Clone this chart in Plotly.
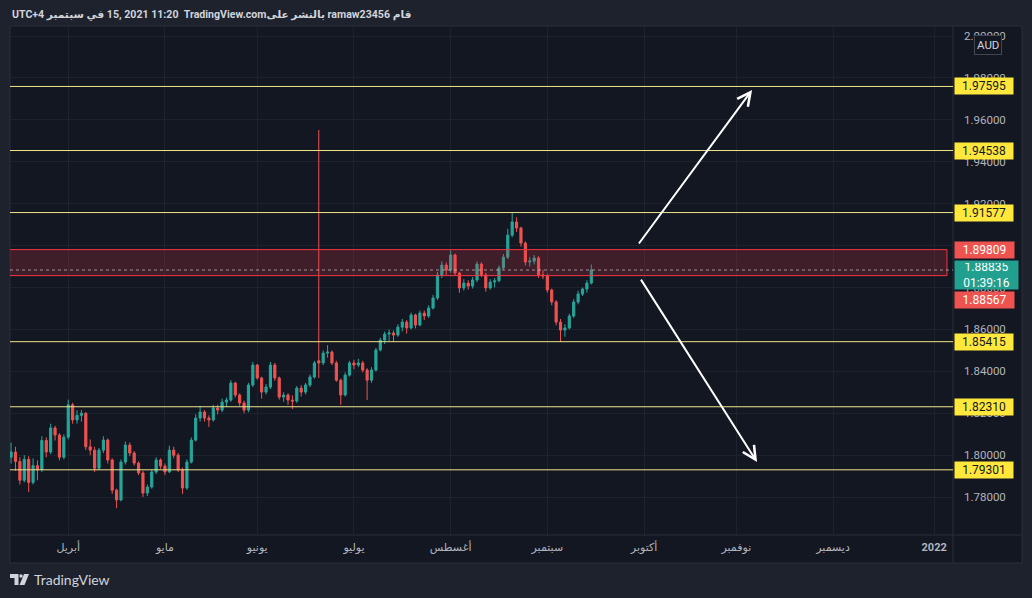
import plotly.graph_objects as go
import pandas as pd

# ---------------- data ----------------
dates = pd.bdate_range("2021-03-15", "2021-09-15").strftime("%Y-%m-%d").tolist()

open_ = [
    1.7990, 1.8015, 1.7970, 1.7880, 1.7980, 1.7870, 1.7950, 1.7930, 1.8070, 1.8015,
    1.8130, 1.8096, 1.7990, 1.8086, 1.8240, 1.8168, 1.8190, 1.8200, 1.8040, 1.8024,
    1.7938, 1.8024, 1.8072, 1.7977, 1.7833, 1.7786, 1.7967, 1.8048, 1.8010, 1.7962,
    1.7915, 1.7819, 1.7848, 1.7920, 1.7977, 1.7948, 1.7920, 1.8024, 1.8000, 1.7929,
    1.7843, 1.7967, 1.8072, 1.8177, 1.8206, 1.8177, 1.8168, 1.8225, 1.8215, 1.8253,
    1.8263, 1.8344, 1.8287, 1.8249, 1.8215, 1.8335, 1.8430, 1.8368, 1.8301, 1.8325,
    1.8430, 1.8368, 1.8277, 1.8287, 1.8263, 1.8258, 1.8320, 1.8301, 1.8335, 1.8373,
    1.8450, 1.8440, 1.8487, 1.8492, 1.8440, 1.8358, 1.8287, 1.8382, 1.8440, 1.8430,
    1.8440, 1.8406, 1.8358, 1.8406, 1.8502, 1.8549, 1.8578, 1.8583, 1.8573, 1.8611,
    1.8635, 1.8607, 1.8669, 1.8621, 1.8678, 1.8664, 1.8702, 1.8750, 1.8860, 1.8907,
    1.8883, 1.8955, 1.8869, 1.8798, 1.8821, 1.8807, 1.8836, 1.8912, 1.8860, 1.8798,
    1.8826, 1.8832, 1.8893, 1.8945, 1.9050, 1.9113, 1.9084, 1.9012, 1.8922, 1.8926,
    1.8941, 1.8860, 1.8855, 1.8788, 1.8731, 1.8635, 1.8597, 1.8607, 1.8664, 1.8731,
    1.8769, 1.8793, 1.8821,
]
high = [
    1.8060, 1.8040, 1.7990, 1.8000, 1.7995, 1.7985, 1.7975, 1.8090, 1.8085, 1.8150,
    1.8140, 1.8105, 1.8100, 1.8265, 1.8250, 1.8215, 1.8215, 1.8205, 1.8075, 1.8040,
    1.8035, 1.8090, 1.8080, 1.7985, 1.7840, 1.7980, 1.8065, 1.8060, 1.8020, 1.7970,
    1.7925, 1.7860, 1.7930, 1.7990, 1.7985, 1.7960, 1.8045, 1.8040, 1.8010, 1.7940,
    1.7980, 1.8085, 1.8195, 1.8235, 1.8215, 1.8190, 1.8240, 1.8240, 1.8270, 1.8275,
    1.8358, 1.8350, 1.8295, 1.8260, 1.8345, 1.8445, 1.8435, 1.8375, 1.8340, 1.8445,
    1.8440, 1.8375, 1.8300, 1.8295, 1.8285, 1.8330, 1.8335, 1.8345, 1.8385, 1.8450,
    1.9552, 1.8500, 1.8525, 1.8500, 1.8450, 1.8365, 1.8395, 1.8450, 1.8455, 1.8460,
    1.8450, 1.8415, 1.8420, 1.8512, 1.8560, 1.8590, 1.8600, 1.8595, 1.8625, 1.8650,
    1.8645, 1.8680, 1.8675, 1.8690, 1.8690, 1.8715, 1.8765, 1.8875, 1.8925, 1.8920,
    1.8978, 1.8962, 1.8875, 1.8840, 1.8835, 1.8850, 1.8925, 1.8920, 1.8870, 1.8840,
    1.8845, 1.8905, 1.8960, 1.9080, 1.9156, 1.9135, 1.9090, 1.9020, 1.8945, 1.8955,
    1.8950, 1.8885, 1.8865, 1.8795, 1.8740, 1.8650, 1.8625, 1.8675, 1.8745, 1.8785,
    1.8800, 1.8835, 1.8910,
]
low = [
    1.7960, 1.7925, 1.7860, 1.7870, 1.7825, 1.7860, 1.7880, 1.7920, 1.7990, 1.8005,
    1.8070, 1.7975, 1.7980, 1.8075, 1.8150, 1.8150, 1.8160, 1.8025, 1.8000, 1.7920,
    1.7930, 1.8010, 1.7960, 1.7815, 1.7747, 1.7780, 1.7955, 1.7995, 1.7950, 1.7905,
    1.7800, 1.7805, 1.7840, 1.7910, 1.7935, 1.7905, 1.7915, 1.7985, 1.7920, 1.7815,
    1.7835, 1.7960, 1.8065, 1.8160, 1.8160, 1.8135, 1.8160, 1.8195, 1.8205, 1.8230,
    1.8255, 1.8275, 1.8235, 1.8200, 1.8205, 1.8325, 1.8360, 1.8270, 1.8290, 1.8315,
    1.8355, 1.8265, 1.8255, 1.8240, 1.8220, 1.8250, 1.8280, 1.8290, 1.8325, 1.8365,
    1.8368, 1.8430, 1.8465, 1.8430, 1.8350, 1.8240, 1.8280, 1.8375, 1.8410, 1.8420,
    1.8395, 1.8263, 1.8345, 1.8400, 1.8495, 1.8530, 1.8545, 1.8540, 1.8565, 1.8590,
    1.8580, 1.8600, 1.8605, 1.8615, 1.8645, 1.8655, 1.8695, 1.8740, 1.8845, 1.8860,
    1.8870, 1.8855, 1.8775, 1.8785, 1.8790, 1.8795, 1.8825, 1.8850, 1.8780, 1.8790,
    1.8800, 1.8825, 1.8885, 1.8935, 1.9040, 1.9065, 1.8995, 1.8905, 1.8900, 1.8910,
    1.8845, 1.8840, 1.8775, 1.8715, 1.8620, 1.8540, 1.8565, 1.8600, 1.8655, 1.8720,
    1.8760, 1.8775, 1.8815,
]
close = [
    1.8015, 1.7970, 1.7880, 1.7980, 1.7870, 1.7950, 1.7930, 1.8070, 1.8015, 1.8130,
    1.8096, 1.7990, 1.8086, 1.8240, 1.8168, 1.8190, 1.8200, 1.8040, 1.8024, 1.7938,
    1.8024, 1.8072, 1.7977, 1.7833, 1.7786, 1.7967, 1.8048, 1.8010, 1.7962, 1.7915,
    1.7819, 1.7848, 1.7920, 1.7977, 1.7948, 1.7920, 1.8024, 1.8000, 1.7929, 1.7843,
    1.7967, 1.8072, 1.8177, 1.8206, 1.8177, 1.8168, 1.8225, 1.8215, 1.8253, 1.8263,
    1.8344, 1.8287, 1.8249, 1.8215, 1.8335, 1.8430, 1.8368, 1.8301, 1.8325, 1.8430,
    1.8368, 1.8277, 1.8287, 1.8263, 1.8258, 1.8320, 1.8301, 1.8335, 1.8373, 1.8440,
    1.8440, 1.8487, 1.8492, 1.8440, 1.8358, 1.8287, 1.8382, 1.8440, 1.8430, 1.8440,
    1.8406, 1.8358, 1.8406, 1.8502, 1.8549, 1.8578, 1.8583, 1.8573, 1.8611, 1.8635,
    1.8607, 1.8669, 1.8621, 1.8678, 1.8664, 1.8702, 1.8750, 1.8860, 1.8907, 1.8883,
    1.8955, 1.8869, 1.8798, 1.8821, 1.8807, 1.8836, 1.8912, 1.8860, 1.8798, 1.8826,
    1.8832, 1.8893, 1.8945, 1.9050, 1.9113, 1.9084, 1.9012, 1.8922, 1.8926, 1.8941,
    1.8860, 1.8855, 1.8788, 1.8731, 1.8635, 1.8597, 1.8607, 1.8664, 1.8731, 1.8769,
    1.8793, 1.8821, 1.88835,
]

level_lines = [1.97595, 1.94538, 1.91577, 1.85415, 1.82310, 1.79301]
zone_top = 1.89809
zone_bottom = 1.88567
last_price = 1.88835
countdown = "01:39:16"

month_ticks = ["2021-04-01", "2021-05-03", "2021-06-01", "2021-07-01", "2021-08-02",
               "2021-09-01", "2021-10-01", "2021-11-01", "2021-12-01", "2022-01-03"]
month_labels = ["أبريل", "مايو", "يونيو", "يوليو", "أغسطس",
                "سبتمبر", "أكتوبر", "نوفمبر", "ديسمبر", "<b>2022</b>"]

# drawings (arrow tails / heads in date, price)
arrow_up = dict(tail=("2021-09-29 14:00", 1.9003), head=("2021-11-04 14:00", 1.9743))
arrow_down = dict(tail=("2021-09-30 02:00", 1.8845), head=("2021-11-05 17:00", 1.7967))
zone_end = "2022-01-05 22:00"

header_parts = ["UTC+4 ", "في سبتمبر", "\u200e 15, 2021 11:20  TradingView.com",
                "بالنشر على", "\u200e ramaw23456 ", "قام"]

# ---------------- style ----------------
W, H = 1032, 598
ML, MR, MT, MB = 10, 79, 26, 63
BG_OUT = "#1e222d"
BG_IN = "#131722"
GRID = "#1e222d"
SEP = "#2a2e39"
TXT = "#b2b5be"
UP = "#26a69a"
DOWN = "#ef5350"
YEL_LINE = "#f1e48a"
YEL_TAG = "#ffe83b"
FONT = "Roboto, DejaVu Sans, sans-serif"


def px(x):
    return (x - ML) / (W - ML - MR)


def py(y):
    return (H - MB - y) / (H - MT - MB)


fig = go.Figure()
fig.add_trace(go.Candlestick(
    x=dates, open=open_, high=high, low=low, close=close,
    increasing=dict(line=dict(color=UP, width=1), fillcolor=UP),
    decreasing=dict(line=dict(color=DOWN, width=1), fillcolor=DOWN),
    whiskerwidth=0, showlegend=False, hoverinfo="skip",
))

shapes = []
shapes.append(dict(type="rect", xref="paper", yref="paper", x0=px(10), x1=px(1022), y0=py(563), y1=py(26),
                   fillcolor=BG_IN, line=dict(color=SEP, width=1), layer="below"))
shapes.append(dict(type="line", xref="paper", yref="paper", x0=1, x1=1, y0=py(563), y1=py(26),
                   line=dict(color=SEP, width=1)))
shapes.append(dict(type="line", xref="paper", yref="paper", x0=px(10), x1=px(1022), y0=0, y1=0,
                   line=dict(color=SEP, width=1)))
shapes.append(dict(type="rect", xref="x", yref="y", x0="2021-03-01", x1=zone_end, y0=zone_bottom, y1=zone_top,
                   fillcolor="rgba(242,54,69,0.2)", line=dict(color="#f23645", width=1)))
for lv in level_lines:
    shapes.append(dict(type="line", xref="paper", yref="y", x0=0, x1=1, y0=lv, y1=lv,
                       line=dict(color=YEL_LINE, width=1)))
shapes.append(dict(type="line", xref="paper", yref="y", x0=0, x1=1, y0=last_price, y1=last_price,
                   line=dict(color="rgba(200,200,205,0.7)", width=1, dash="dot")))

# TradingView logo icon
t_path = "M{},{} L{},{} L{},{} L{},{} L{},{} L{},{} Z".format(
    px(10), py(574), px(18.5), py(574), px(18.5), py(585), px(14.5), py(585), px(14.5), py(578), px(10), py(578))
s_path = "M{},{} L{},{} L{},{} L{},{} Z".format(
    px(24), py(574), px(29), py(574), px(24.5), py(585), px(19.5), py(585))
shapes.append(dict(type="path", xref="paper", yref="paper", path=t_path, fillcolor="#d1d4dc", line=dict(width=0)))
shapes.append(dict(type="path", xref="paper", yref="paper", path=s_path, fillcolor="#d1d4dc", line=dict(width=0)))
shapes.append(dict(type="circle", xref="paper", yref="paper", x0=px(19.3), x1=px(22.7), y0=py(577.7), y1=py(574.3),
                   fillcolor="#d1d4dc", line=dict(width=0)))

annotations = []
for lv in level_lines:
    annotations.append(dict(xref="paper", x=1, xanchor="left", xshift=1, yref="y", y=lv, yanchor="middle",
                            text=f"{lv:.5f}", showarrow=False, bgcolor=YEL_TAG, width=54, height=12,
                            borderpad=2, align="center", font=dict(color="#131722", size=12, family=FONT)))
annotations.append(dict(xref="paper", x=1, xanchor="left", xshift=1, yref="y", y=zone_top, yanchor="middle",
                        text=f"{zone_top:.5f}", showarrow=False, bgcolor=DOWN, width=55, height=12,
                        borderpad=2, align="center", font=dict(color="white", size=12, family=FONT)))
annotations.append(dict(xref="paper", x=1, xanchor="left", xshift=1, yref="y", y=zone_bottom, yanchor="middle",
                        yshift=-24.5, text=f"{zone_bottom:.5f}", showarrow=False, bgcolor=DOWN, width=55,
                        height=12, borderpad=2, align="center", font=dict(color="white", size=12, family=FONT)))
annotations.append(dict(xref="paper", x=1, xanchor="left", xshift=1, yref="y", y=last_price, yanchor="middle",
                        yshift=-5, text=f"{last_price:.5f}<br>{countdown}", showarrow=False, bgcolor="#22a08f",
                        width=59, height=24, borderpad=2, align="center",
                        font=dict(color="white", size=12, family=FONT)))
annotations.append(dict(xref="paper", yref="paper", x=px(988), y=py(44.5), xanchor="center", yanchor="middle",
                        text="AUD", showarrow=False, bgcolor=BG_IN, bordercolor="#434651", borderwidth=1,
                        borderpad=2, font=dict(color="#d1d4dc", size=11.5, family=FONT)))
annotations.append(dict(xref="paper", yref="paper", x=px(10), y=py(14), xanchor="left", yanchor="middle",
                        text="".join(header_parts), showarrow=False,
                        font=dict(color="#d1d4dc", size=10.6, family=FONT, weight="bold")))
annotations.append(dict(xref="paper", yref="paper", x=px(32), y=py(579.5), xanchor="left", yanchor="middle",
                        text="TradingView", showarrow=False,
                        font=dict(color="#d1d4dc", size=14, family="Lato, Roboto, sans-serif")))
for arr in (arrow_up, arrow_down):
    annotations.append(dict(x=arr["head"][0], y=arr["head"][1], ax=arr["tail"][0], ay=arr["tail"][1],
                            xref="x", yref="y", axref="x", ayref="y", text="", showarrow=True,
                            arrowhead=5, arrowsize=1.3, arrowwidth=2, arrowcolor="white", standoff=0))

fig.update_layout(
    width=W, height=H,
    margin=dict(l=ML, r=MR, t=MT, b=MB),
    paper_bgcolor=BG_OUT, plot_bgcolor=BG_IN,
    shapes=shapes, annotations=annotations,
    showlegend=False,
    font=dict(family=FONT, color=TXT, size=12),
    xaxis=dict(
        type="date", range=["2021-03-12 18:00", "2022-01-07 07:00"],
        rangebreaks=[dict(bounds=["sat", "mon"])],
        tickvals=month_ticks, ticktext=month_labels,
        showgrid=True, gridcolor=GRID, gridwidth=1, zeroline=False, showline=False,
        ticks="", ticklabelstandoff=4,
        tickfont=dict(color=TXT, size=11, family=FONT),
        rangeslider=dict(visible=False), fixedrange=True,
    ),
    yaxis=dict(
        side="right", range=[1.7619, 2.0048], tick0=1.78, dtick=0.02, tickformat=".5f",
        showgrid=True, gridcolor=GRID, gridwidth=1, zeroline=False, showline=False,
        ticks="", ticklabelstandoff=10,
        tickfont=dict(color=TXT, size=11.5, family=FONT), fixedrange=True,
    ),
)

fig.write_html("out.html", config={"displayModeBar": False},
               post_script="document.body.style.margin='0';document.body.style.background='#1e222d';")
